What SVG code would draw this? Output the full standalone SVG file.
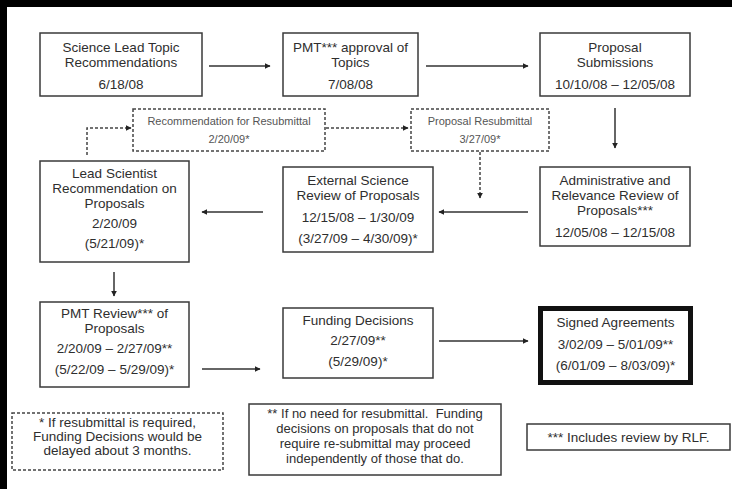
<svg xmlns="http://www.w3.org/2000/svg" width="732" height="489" viewBox="0 0 732 489">
<style>
.bx{fill:#fff;stroke:#3a3a3a;stroke-width:1.5}
.dbx{fill:#fff;stroke:#444;stroke-width:1.5;stroke-dasharray:3 2}
.t{font-family:"Liberation Sans",Arial,sans-serif;font-size:13.5px;fill:#2e2e2e;text-anchor:middle}
.ts{font-family:"Liberation Sans",Arial,sans-serif;font-size:11px;fill:#555;text-anchor:middle}
.tf{font-family:"Liberation Sans",Arial,sans-serif;font-size:13.5px;fill:#2e2e2e;text-anchor:middle}
.tn{font-family:"Liberation Sans",Arial,sans-serif;font-size:13px;fill:#2e2e2e;text-anchor:middle}
.c{fill:none;stroke:#333;stroke-width:1.5;marker-end:url(#ah)}
.cd{fill:none;stroke:#444;stroke-width:1.5;stroke-dasharray:3 2;marker-end:url(#ah)}
</style>
<defs>
<marker id="ah" viewBox="0 0 10 10" refX="9" refY="5" markerWidth="6" markerHeight="6" orient="auto" markerUnits="userSpaceOnUse">
<path d="M0,0 L10,5 L0,10 z" fill="#222"/>
</marker>
</defs>
<rect x="0" y="0" width="732" height="489" fill="#000"/>
<rect x="7" y="7" width="725" height="482" fill="#fff"/>

<g id="connectors">
<path class="c" d="M209,66 H270"/>
<path class="c" d="M426,66 H528"/>
<path class="c" d="M615,108 V148"/>
<path class="cd" d="M87,155 V128 H131"/>
<path class="cd" d="M326,128 H408"/>
<path class="cd" d="M480,152 V198"/>
<path class="c" d="M263,212 H202"/>
<path class="c" d="M528,212 H439"/>
<path class="c" d="M114,272 V296"/>
<path class="c" d="M202,369 H260"/>
<path class="c" d="M439,341 H528"/>
</g>

<g id="n1">
<rect class="bx" x="40" y="33" width="162" height="63"/>
<text class="t" x="121" y="52">Science Lead Topic</text>
<text class="t" x="121" y="67">Recommendations</text>
<text class="t" x="121" y="89">6/18/08</text>
</g>
<g id="n2">
<rect class="bx" x="283" y="33" width="135" height="63"/>
<text class="t" x="350.5" y="52">PMT*** approval of</text>
<text class="t" x="350.5" y="67">Topics</text>
<text class="t" x="350.5" y="89">7/08/08</text>
</g>
<g id="n3">
<rect class="bx" x="540" y="33" width="150" height="63"/>
<text class="t" x="615" y="52">Proposal</text>
<text class="t" x="615" y="67">Submissions</text>
<text class="t" x="615" y="89">10/10/08 – 12/05/08</text>
</g>
<g id="n4">
<rect class="dbx" x="133" y="109" width="192" height="42"/>
<text class="ts" x="229" y="125">Recommendation for Resubmittal</text>
<text class="ts" x="229" y="143">2/20/09*</text>
</g>
<g id="n5">
<rect class="dbx" x="411" y="109" width="138" height="42"/>
<text class="ts" x="480" y="125">Proposal Resubmittal</text>
<text class="ts" x="480" y="143">3/27/09*</text>
</g>
<g id="n6">
<rect class="bx" x="40" y="161" width="149" height="101"/>
<text class="t" x="114.5" y="178">Lead Scientist</text>
<text class="t" x="114.5" y="193">Recommendation on</text>
<text class="t" x="114.5" y="208">Proposals</text>
<text class="t" x="114.5" y="228">2/20/09</text>
<text class="t" x="114.5" y="248">(5/21/09)*</text>
</g>
<g id="n7">
<rect class="bx" x="283" y="167" width="150" height="85"/>
<text class="t" x="358" y="185">External Science</text>
<text class="t" x="358" y="200">Review of Proposals</text>
<text class="t" x="358" y="222">12/15/08 – 1/30/09</text>
<text class="t" x="358" y="243">(3/27/09 – 4/30/09)*</text>
</g>
<g id="n8">
<rect class="bx" x="540" y="167" width="150" height="79"/>
<text class="t" x="615" y="185">Administrative and</text>
<text class="t" x="615" y="200">Relevance Review of</text>
<text class="t" x="615" y="215">Proposals***</text>
<text class="t" x="615" y="237">12/05/08 – 12/15/08</text>
</g>
<g id="n9">
<rect class="bx" x="40" y="302" width="149" height="85"/>
<text class="t" x="114.5" y="318">PMT Review*** of</text>
<text class="t" x="114.5" y="333">Proposals</text>
<text class="t" x="114.5" y="353">2/20/09 – 2/27/09**</text>
<text class="t" x="114.5" y="374">(5/22/09 – 5/29/09)*</text>
</g>
<g id="n10">
<rect class="bx" x="283" y="308" width="150" height="70"/>
<text class="t" x="358" y="325">Funding Decisions</text>
<text class="t" x="358" y="345">2/27/09**</text>
<text class="t" x="358" y="366">(5/29/09)*</text>
</g>
<g id="n11">
<rect x="540.5" y="308.5" width="150" height="74" fill="#fff" stroke="#111" stroke-width="5"/>
<text class="t" x="615.5" y="327">Signed Agreements</text>
<text class="t" x="615.5" y="349">3/02/09 – 5/01/09**</text>
<text class="t" x="615.5" y="370">(6/01/09 – 8/03/09)*</text>
</g>
<g id="note1">
<rect class="dbx" x="12" y="413" width="211" height="57"/>
<text class="tf" x="117.5" y="427">* If resubmittal is required,</text>
<text class="tf" x="117.5" y="441">Funding Decisions would be</text>
<text class="tf" x="117.5" y="455">delayed about 3 months.</text>
</g>
<g id="note2">
<rect class="bx" x="249" y="404" width="252" height="71"/>
<text class="tn" x="375" y="418" xml:space="preserve">** If no need for resubmittal.  Funding</text>
<text class="tn" x="375" y="433">decisions on proposals that do not</text>
<text class="tn" x="375" y="448">require re-submittal may proceed</text>
<text class="tn" x="375" y="463">independently of those that do.</text>
</g>
<g id="note3">
<rect class="bx" x="527" y="424" width="203" height="26"/>
<text class="tf" x="628.5" y="442">*** Includes review by RLF.</text>
</g>
</svg>
